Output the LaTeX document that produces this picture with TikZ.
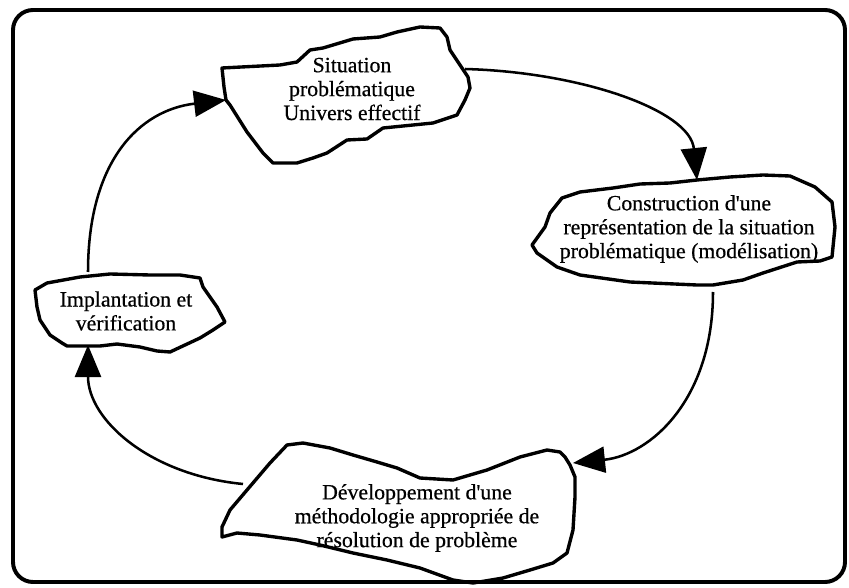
\documentclass[tikz,border=0pt]{standalone}
\usepackage{fontspec}
\setmainfont[FakeBold=0.6]{Liberation Serif}
\usetikzlibrary{arrows.meta}
\begin{document}
\begin{tikzpicture}
    [x=0.25mm,y=-0.25mm,
     blob/.style={draw,line width=2.4pt,line join=round},
     blobtext/.style={align=center,inner sep=0pt,font=\fontsize{15.5}{17}\selectfont},
     link/.style={line width=1.8pt,-{Triangle[length=8mm,width=6.5mm]}}]
    \useasboundingbox (0,0) rectangle (849,588);
    \draw [line width=2.8pt,rounded corners=5mm] (13,10) rectangle (845,582);
    \draw [blob] (222,68) -- (280,65) -- (297,62) -- (310,50) -- (323,48) -- (353,39) -- (380,37) -- (397,32) -- (420,27) -- (440,28) -- (447,37) -- (450,50) -- (460,65) -- (468,77) -- (470,88) -- (465,100) -- (457,115) -- (433,123) -- (383,128) -- (367,139) -- (347,140) -- (327,153) -- (313,158) -- (297,163) -- (273,163) -- (263,153) -- (247,132) -- (230,105) -- (226,100) -- (224,87) -- cycle;
    \draw [blob] (532,245) -- (545,227) -- (550,213) -- (562,198) -- (580,192) -- (613,188) -- (640,184) -- (670,183) -- (697,180) -- (730,177) -- (763,175) -- (790,176) -- (815,187) -- (832,202) -- (835,227) -- (832,257) -- (820,261) -- (797,262) -- (763,273) -- (743,280) -- (713,285) -- (697,285) -- (630,282) -- (580,275) -- (557,267) -- (537,253) -- cycle;
    \draw [blob] (35,290) -- (47,283) -- (80,277) -- (110,274) -- (150,275) -- (180,275) -- (200,278) -- (203,287) -- (217,307) -- (225,322) -- (213,330) -- (200,338) -- (170,352) -- (157,351) -- (140,347) -- (117,344) -- (100,346) -- (67,346) -- (62,343) -- (50,335) -- (40,320) -- (37,307) -- cycle;
    \draw [blob] (287,445) -- (303,443) -- (330,448) -- (353,455) -- (377,462) -- (397,468) -- (420,478) -- (453,480) -- (487,470) -- (520,457) -- (547,450) -- (560,452) -- (565,457) -- (570,465) -- (575,477) -- (575,497) -- (573,530) -- (567,553) -- (553,563) -- (530,570) -- (503,578) -- (473,583) -- (453,580) -- (420,568) -- (387,560) -- (353,553) -- (320,545) -- (297,540) -- (260,535) -- (237,533) -- (222,537) -- (222,527) -- (230,510) -- (247,490) -- (270,463) -- cycle;
    \node (sit) at (352,89) [blobtext] {Situation\\problématique\\Univers effectif};
    \node (cons) at (689,229) [blobtext] {Construction d\textquotesingle une\\représentation de la situation\\problématique (modélisation)};
    \node (impl) at (126,311) [blobtext] {Implantation et\\vérification};
    \node (dev) at (417,518) [blobtext] {Développement d\textquotesingle une\\méthodologie appropriée de\\résolution de problème};
    \coordinate (sit-w) at (226,100);
    \coordinate (sit-e) at (465,69);
    \coordinate (cons-n) at (697,180);
    \coordinate (cons-s) at (713,292);
    \coordinate (dev-e) at (573,463);
    \coordinate (dev-w) at (243,484);
    \coordinate (impl-s) at (88,345);
    \coordinate (impl-n) at (88,272);
    \draw [link] (impl-n) .. controls (88,160) and (140,110) .. (sit-w);
    \draw [link] (sit-e) .. controls (580,72) and (690,110) .. (cons-n);
    \draw [link] (cons-s) .. controls (713,400) and (650,455) .. (dev-e);
    \draw [link] (dev-w) .. controls (150,475) and (88,420) .. (impl-s);
\end{tikzpicture}
\end{document}
